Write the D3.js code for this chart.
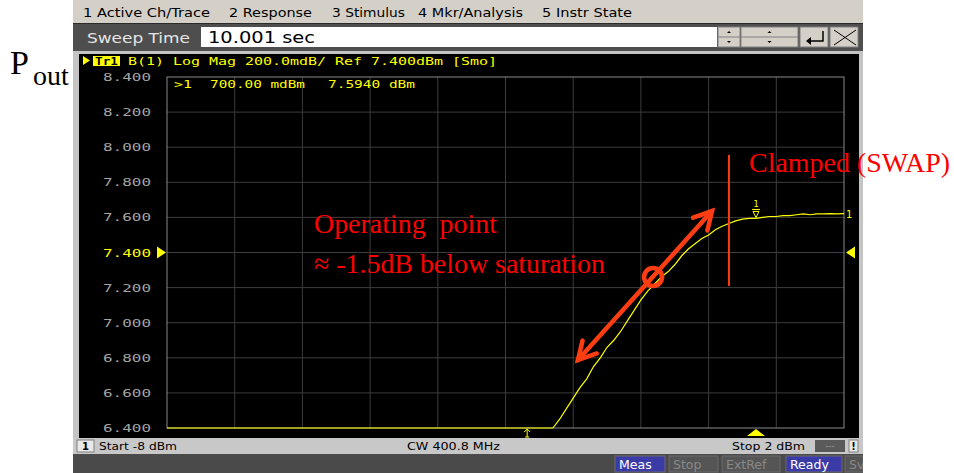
<!DOCTYPE html>
<html>
<head>
<meta charset="utf-8">
<script src="https://cdn.jsdelivr.net/npm/d3@7"></script>
<style>
  html, body { margin: 0; padding: 0; background: #fff; }
  svg { display: block; }
  .mono { font-family: "DejaVu Sans Mono", "Liberation Mono", monospace; }
  .ui { font-family: "DejaVu Sans", Verdana, sans-serif; }
  .serif { font-family: "Liberation Serif", "Times New Roman", serif; }
</style>
</head>
<body>
<svg id="chart" width="954" height="473"></svg>
<script>
// Stimulus power sweep (dBm) and measured output power (dBm)
const inputPower = [-8.0, -2.3, -2.2, -2.1, -2.0, -1.9, -1.8, -1.7, -1.6, -1.5, -1.4, -1.3, -1.2, -1.1, -1.0,
  -0.9, -0.8, -0.7, -0.6, -0.5, -0.4, -0.3, -0.2, -0.1, 0.0, 0.1, 0.2, 0.3, 0.4, 0.5, 0.6, 0.7,
  0.8, 0.9, 1.0, 1.1, 1.2, 1.3, 1.4, 1.5, 1.6, 1.7, 1.8, 1.9, 2.0];
const outputPower = [6.40, 6.40, 6.45, 6.51, 6.57, 6.63, 6.68, 6.75, 6.80, 6.86, 6.90, 6.95, 7.01, 7.07, 7.13,
  7.18, 7.22, 7.26, 7.29, 7.33, 7.38, 7.42, 7.45, 7.48, 7.50, 7.53, 7.55, 7.565, 7.58, 7.59, 7.594, 7.594,
  7.60, 7.605, 7.605, 7.61, 7.61, 7.615, 7.62, 7.615, 7.62, 7.62, 7.622, 7.62, 7.622];

// Axis settings of the analyzer display
const yTicks = [6.4, 6.6, 6.8, 7.0, 7.2, 7.4, 7.6, 7.8, 8.0, 8.2, 8.4];
const xTicks = [-8, -7, -6, -5, -4, -3, -2, -1, 0, 1, 2];
const refLevel = 7.4;
const stimStart = -8, stimStop = 2;

// Marker 1
const markerStim = 0.7;
const markerValue = 7.594;
const stimIndicator = -2.68;

// Annotation geometry (in stimulus / response units)
const opPoint = [-0.82, 7.26];
const arrowEnds = [[-1.93, 6.787], [0.05, 7.636]];
const clampLine = [0.30, 7.956, 7.209];

// Menu and status texts
const menuItems = ["1 Active Ch/Trace", "2 Response", "3 Stimulus", "4 Mkr/Analysis", "5 Instr State"];
const statusItems = ["Meas", "Stop", "ExtRef", "Ready", "Sv"];

const svg = d3.select("#chart");

const x = d3.scaleLinear().domain([stimStart, stimStop]).range([167, 844]);
const y = d3.scaleLinear().domain([6.4, 8.4]).range([428, 77]);

// ---------- window chrome ----------
svg.append("rect").attr("x", 73).attr("y", 0).attr("width", 790).attr("height", 23).attr("fill", "#d4d0c8");
const menuX = [83, 229, 332, 418, 542];
const menuW = [127, 83, 73, 105, 90];
menuItems.forEach((t, i) => {
  svg.append("text").attr("class", "ui").attr("x", menuX[i]).attr("y", 17)
    .attr("font-size", 12).attr("fill", "#000")
    .attr("textLength", menuW[i]).attr("lengthAdjust", "spacingAndGlyphs").text(t);
});

// sweep time entry row
svg.append("rect").attr("x", 73).attr("y", 23).attr("width", 790).attr("height", 28).attr("fill", "#4e4e4e");
svg.append("line").attr("x1", 73).attr("x2", 863).attr("y1", 23.5).attr("y2", 23.5).attr("stroke", "#2a2a2a");
svg.append("text").attr("class", "ui").attr("x", 87).attr("y", 43).attr("font-size", 14.5)
  .attr("fill", "#e4e4e4").attr("textLength", 103).attr("lengthAdjust", "spacingAndGlyphs").text("Sweep Time");
svg.append("rect").attr("x", 201).attr("y", 27).attr("width", 516).attr("height", 20).attr("fill", "#fff");
svg.append("text").attr("class", "ui").attr("x", 208).attr("y", 43).attr("font-size", 15)
  .attr("fill", "#000").attr("textLength", 107).attr("lengthAdjust", "spacingAndGlyphs").text("10.001 sec");

// spinner / enter / close buttons
const btns = [[718, 22], [741, 57], [800, 28], [830, 28]];
btns.forEach(([bx, bw]) => {
  svg.append("rect").attr("x", bx).attr("y", 27).attr("width", bw).attr("height", 20)
    .attr("fill", "#d4d0c8").attr("stroke", "#808080").attr("stroke-width", 1);
});
[[718, 22], [741, 57]].forEach(([bx, bw]) => {
  svg.append("line").attr("x1", bx).attr("x2", bx + bw).attr("y1", 37).attr("y2", 37).attr("stroke", "#808080");
  const cx = bx + bw / 2;
  svg.append("path").attr("d", `M${cx - 2},33 L${cx + 2},33 L${cx},31 Z`).attr("fill", "#000");
  svg.append("path").attr("d", `M${cx - 2},41 L${cx + 2},41 L${cx},43 Z`).attr("fill", "#000");
});
svg.append("path").attr("d", "M823,31 V41 H807").attr("fill", "none").attr("stroke", "#000").attr("stroke-width", 1.5);
svg.append("path").attr("d", "M806,41 L811,37 L811,45 Z").attr("fill", "#000");
svg.append("path").attr("d", "M834,30 L856,45 M856,30 L834,45").attr("stroke", "#000").attr("stroke-width", 1);

// ---------- display panel ----------
svg.append("rect").attr("x", 73).attr("y", 51).attr("width", 790).attr("height", 388).attr("fill", "#c4c4c4");
svg.append("rect").attr("x", 79).attr("y", 54).attr("width", 780).attr("height", 384).attr("fill", "#000");

// trace header line
svg.append("path").attr("d", "M83,56 L90,60.5 L83,65 Z").attr("fill", "#ffff00");
svg.append("rect").attr("x", 93).attr("y", 56).attr("width", 27).attr("height", 10).attr("fill", "#ffff00");
svg.append("text").attr("class", "mono").attr("x", 95).attr("y", 65).attr("font-size", 11).attr("font-weight", "bold")
  .attr("fill", "#000").attr("textLength", 23).attr("lengthAdjust", "spacingAndGlyphs").text("Tr1");
svg.append("text").attr("class", "mono").attr("x", 128).attr("y", 65).attr("font-size", 11)
  .attr("fill", "#ffff00").attr("textLength", 369).attr("lengthAdjust", "spacingAndGlyphs")
  .text("B(1) Log Mag 200.0mdB/ Ref 7.400dBm [Smo]");

// grid
const grid = svg.append("g");
grid.selectAll("line.v").data(xTicks.slice(1, -1)).join("line")
  .attr("x1", d => x(d)).attr("x2", d => x(d)).attr("y1", y(8.4)).attr("y2", y(6.4))
  .attr("stroke", "#3c3c3c").attr("stroke-width", 1);
grid.selectAll("line.h").data(yTicks.slice(1, -1)).join("line")
  .attr("x1", x(stimStart)).attr("x2", x(stimStop)).attr("y1", d => y(d)).attr("y2", d => y(d))
  .attr("stroke", "#3c3c3c").attr("stroke-width", 1);
svg.append("rect").attr("x", x(stimStart)).attr("y", y(8.4))
  .attr("width", x(stimStop) - x(stimStart)).attr("height", y(6.4) - y(8.4))
  .attr("fill", "none").attr("stroke", "#8a8a8a").attr("stroke-width", 1);

// y axis labels
const yAxis = d3.axisLeft(y).tickValues(yTicks).tickFormat(d3.format(".3f")).tickSize(0).tickPadding(16);
const ya = svg.append("g").attr("transform", `translate(${x(stimStart)},0)`).call(yAxis);
ya.select(".domain").remove();
ya.selectAll("text").attr("class", "mono").attr("font-size", 11)
  .attr("fill", d => Math.abs(d - refLevel) < 1e-9 ? "#ffff00" : "#a4a4a4")
  .attr("textLength", 48).attr("lengthAdjust", "spacingAndGlyphs");

// reference level pointers
svg.append("path").attr("d", `M157,${y(refLevel) - 6} L166,${y(refLevel)} L157,${y(refLevel) + 6} Z`).attr("fill", "#ffff00");
svg.append("path").attr("d", `M855,${y(refLevel) - 6} L846,${y(refLevel)} L855,${y(refLevel) + 6} Z`).attr("fill", "#ffff00");

// measured trace
const pts = inputPower.map((p, i) => [p, Math.max(6.4, Math.min(8.4, outputPower[i]))]);
svg.append("path").datum(pts)
  .attr("d", d3.line().x(d => x(d[0])).y(d => y(d[1])))
  .attr("fill", "none").attr("stroke", "#ffff00").attr("stroke-width", 1.2);

// trace end label
svg.append("text").attr("class", "mono").attr("x", x(stimStop) + 2).attr("y", y(outputPower[outputPower.length - 1]) + 4)
  .attr("font-size", 10).attr("fill", "#ffff00").text("1");

// marker 1 symbol on trace
const mx = x(markerStim), my = y(markerValue);
svg.append("text").attr("class", "mono").attr("x", mx).attr("y", my - 11).attr("text-anchor", "middle")
  .attr("font-size", 9).attr("fill", "#ffff00").text("1");
svg.append("path").attr("d", `M${mx - 4},${my - 9} H${mx + 4} M${mx - 3},${my - 7} L${mx + 3},${my - 7} L${mx},${my - 1} Z`)
  .attr("fill", "none").attr("stroke", "#ffff00").attr("stroke-width", 1);

// marker readout
const ro = svg.append("g").attr("class", "mono").attr("font-size", 11).attr("fill", "#ffff00");
ro.append("text").attr("x", 174).attr("y", 88).attr("textLength", 18).attr("lengthAdjust", "spacingAndGlyphs").text(">1");
ro.append("text").attr("x", 210).attr("y", 88).attr("textLength", 95).attr("lengthAdjust", "spacingAndGlyphs").text("700.00 mdBm");
ro.append("text").attr("x", 328).attr("y", 88).attr("textLength", 87).attr("lengthAdjust", "spacingAndGlyphs").text(markerValue.toFixed(4) + " dBm");

// stimulus pointers along bottom
svg.append("path").attr("d", `M${mx - 9},436 L${mx},429 L${mx + 9},436 Z`).attr("fill", "#ffff00");
const sx = x(stimIndicator);
svg.append("path").attr("d", `M${sx},429 V437 M${sx - 3},432 L${sx},429 L${sx + 3},432 M${sx - 2},437 H${sx + 2}`)
  .attr("fill", "none").attr("stroke", "#ffff00").attr("stroke-width", 1);

// ---------- status bars ----------
svg.append("rect").attr("x", 73).attr("y", 438).attr("width", 790).attr("height", 16).attr("fill", "#c8c8c8");
svg.append("rect").attr("x", 77).attr("y", 440).attr("width", 17).attr("height", 12).attr("fill", "#e8e8e8").attr("stroke", "#808080");
svg.append("text").attr("class", "ui").attr("x", 82).attr("y", 450).attr("font-size", 10).attr("font-weight", "bold").text("1");
svg.append("text").attr("class", "ui").attr("x", 99).attr("y", 450).attr("font-size", 10.5)
  .attr("textLength", 78).attr("lengthAdjust", "spacingAndGlyphs").text("Start -8 dBm");
svg.append("text").attr("class", "ui").attr("x", 407).attr("y", 450).attr("font-size", 10.5)
  .attr("textLength", 93).attr("lengthAdjust", "spacingAndGlyphs").text("CW 400.8 MHz");
svg.append("text").attr("class", "ui").attr("x", 732).attr("y", 450).attr("font-size", 10.5)
  .attr("textLength", 73).attr("lengthAdjust", "spacingAndGlyphs").text("Stop 2 dBm");
svg.append("rect").attr("x", 815).attr("y", 440).attr("width", 30).attr("height", 12).attr("fill", "#5a5a5a");
svg.append("text").attr("class", "ui").attr("x", 830).attr("y", 449).attr("text-anchor", "middle").attr("font-size", 9).attr("fill", "#9a9a9a").text("---");
svg.append("rect").attr("x", 849).attr("y", 440).attr("width", 9).attr("height", 12).attr("fill", "#e8e8e8").attr("stroke", "#808080");
svg.append("text").attr("class", "ui").attr("x", 853.5).attr("y", 450).attr("text-anchor", "middle").attr("font-size", 10).attr("font-weight", "bold").text("!");

svg.append("rect").attr("x", 73).attr("y", 454).attr("width", 790).attr("height", 19).attr("fill", "#4a4a4a");
const sbX = [615, 669, 722, 786, 845], sbW = [50, 49, 58, 56, 18];
statusItems.forEach((t, i) => {
  const on = t === "Meas" || t === "Ready";
  svg.append("rect").attr("x", sbX[i]).attr("y", 456).attr("width", sbW[i]).attr("height", 16)
    .attr("fill", on ? "#3b3ba8" : "#555").attr("stroke", "#6a6a6a");
  svg.append("text").attr("class", "ui").attr("x", sbX[i] + 4).attr("y", 469).attr("font-size", 12.5)
    .attr("fill", on ? "#ffffff" : "#888").text(t);
});
// keep the partial last button inside the window
svg.append("rect").attr("x", 863).attr("y", 454).attr("width", 91).attr("height", 19).attr("fill", "#fff");

// ---------- annotations ----------
const red = "#ff0000", orange = "#ff3d12";

svg.append("text").attr("class", "serif").attr("x", 10).attr("y", 74).attr("font-size", 34).attr("fill", "#000").text("P");
svg.append("text").attr("class", "serif").attr("x", 33).attr("y", 85).attr("font-size", 28).attr("fill", "#000").text("out");

svg.append("line").attr("x1", x(clampLine[0])).attr("x2", x(clampLine[0]))
  .attr("y1", y(clampLine[1])).attr("y2", y(clampLine[2]))
  .attr("stroke", orange).attr("stroke-width", 2);
svg.append("text").attr("class", "serif").attr("x", 749).attr("y", 172).attr("font-size", 28)
  .attr("fill", red).attr("textLength", 201).attr("lengthAdjust", "spacingAndGlyphs").text("Clamped (SWAP)");

svg.append("text").attr("class", "serif").attr("x", 314).attr("y", 233).attr("font-size", 28)
  .attr("fill", red).attr("xml:space", "preserve").attr("textLength", 183).attr("lengthAdjust", "spacingAndGlyphs").text("Operating  point");
svg.append("text").attr("class", "serif").attr("x", 314).attr("y", 273).attr("font-size", 28)
  .attr("fill", red).attr("textLength", 291).attr("lengthAdjust", "spacingAndGlyphs").text("≈ -1.5dB below saturation");

// double-headed arrow through the operating point
const [a0, a1] = arrowEnds.map(p => [x(p[0]), y(p[1])]);
const ang = Math.atan2(a1[1] - a0[1], a1[0] - a0[0]);
svg.append("line").attr("x1", a0[0]).attr("y1", a0[1]).attr("x2", a1[0]).attr("y2", a1[1])
  .attr("stroke", orange).attr("stroke-width", 4.5).attr("stroke-linecap", "round");
function head(tip, dir) {
  const L = 20, spread = 0.5;
  const pA = [tip[0] - L * Math.cos(dir - spread), tip[1] - L * Math.sin(dir - spread)];
  const pB = [tip[0] - L * Math.cos(dir + spread), tip[1] - L * Math.sin(dir + spread)];
  svg.append("path").attr("d", `M${pA[0]},${pA[1]} L${tip[0]},${tip[1]} L${pB[0]},${pB[1]}`)
    .attr("fill", "none").attr("stroke", orange).attr("stroke-width", 4.5)
    .attr("stroke-linecap", "round").attr("stroke-linejoin", "miter");
}
head(a1, ang);
head(a0, ang + Math.PI);
svg.append("circle").attr("cx", x(opPoint[0])).attr("cy", y(opPoint[1])).attr("r", 9)
  .attr("fill", "none").attr("stroke", orange).attr("stroke-width", 4.5);
</script>
</body>
</html>
